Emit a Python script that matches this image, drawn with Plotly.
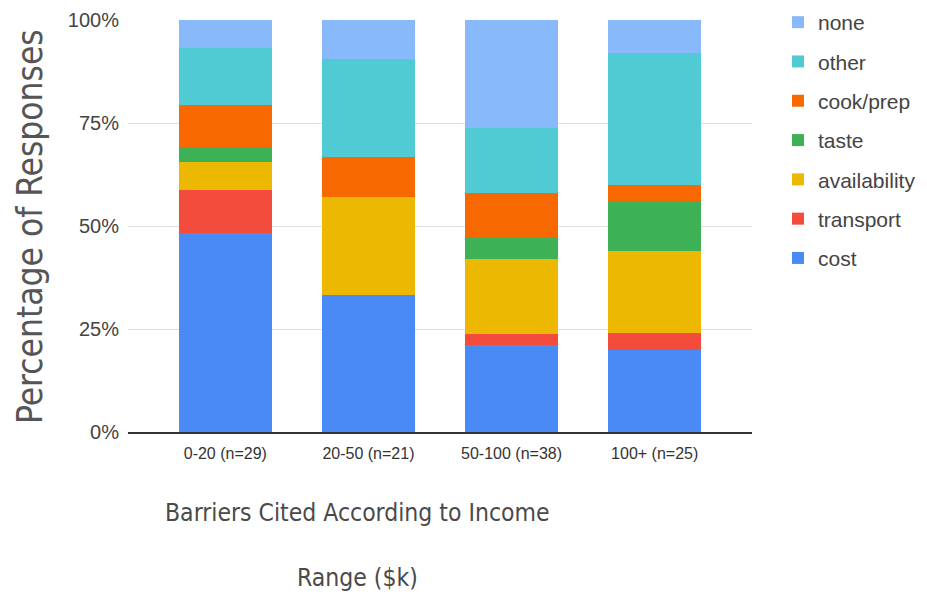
import plotly.graph_objects as go

categories = ["0-20 (n=29)", "20-50 (n=21)", "50-100 (n=38)", "100+ (n=25)"]
series_names = ["cost", "transport", "availability", "taste", "cook/prep", "other", "none"]
# response counts per income range (normalised to percent by the chart)
cost = [14, 7, 8, 5]
transport = [3, 0, 1, 1]
availability = [2, 5, 7, 5]
taste = [1, 0, 2, 3]
cook_prep = [3, 2, 4, 1]
other = [4, 5, 6, 8]
none = [2, 2, 10, 2]
series_values = [cost, transport, availability, taste, cook_prep, other, none]
colors = ["#4a8af4", "#f34b3c", "#ecb802", "#3cb155", "#f76800", "#50cbd3", "#88b9fa"]
y_ticks = [0, 25, 50, 75, 100]
y_tick_labels = ["0%", "25%", "50%", "75%", "100%"]

fig = go.Figure()
n = len(series_names)
for i, (name, vals, col) in enumerate(zip(series_names, series_values, colors)):
    fig.add_trace(go.Bar(
        x=categories, y=vals, name=name, legendgroup=name,
        legendrank=(n - i) * 10,
        marker=dict(color=col, line=dict(width=0)),
    ))

W, H = 927, 594
L, R, T, B = 128, 175, 8, 162
plot_top = 20
pw, ph = W - L - R, H - T - B
y_dom_top = (H - B - plot_top) / ph

title_font = "Liberation Sans Narrow, DejaVu Sans Condensed, Liberation Sans, sans-serif"

def py(pix):
    return (H - B - pix) / ph

fig.update_layout(
    width=W, height=H,
    margin=dict(l=L, r=R, t=T, b=B, autoexpand=False),
    barmode="stack", barnorm="percent", bargap=0.35,
    plot_bgcolor="white", paper_bgcolor="white",
    font=dict(family="Arial, Liberation Sans, sans-serif", color="#444444"),
    legend=dict(
        x=(778 - L) / pw, y=py(2), xanchor="left", yanchor="top",
        traceorder="grouped", tracegroupgap=9,
        font=dict(size=21, color="#444444"),
        bgcolor="rgba(0,0,0,0)",
    ),
    xaxis=dict(
        type="category", range=[-0.68, 3.68], automargin=False,
        showline=True, linecolor="#333333", linewidth=1.5,
        showgrid=False, tickfont=dict(size=16, color="#333333"),
        ticklabelstandoff=6,
    ),
    yaxis=dict(
        domain=[0, y_dom_top], automargin=False,
        range=[0, 100], tickmode="array", tickvals=y_ticks, ticktext=y_tick_labels,
        showgrid=True, gridcolor="#dddddd", gridwidth=1, zeroline=False,
        tickfont=dict(size=20, color="#444444"), ticklabelstandoff=8,
    ),
    annotations=[
        dict(text="Percentage of Responses", textangle=-90,
             xref="paper", yref="paper", x=(30 - L) / pw, y=py(227),
             xanchor="center", yanchor="middle", showarrow=False,
             font=dict(size=35, color="#555555", family=title_font)),
        dict(text="Barriers Cited According to Income",
             xref="paper", yref="paper", x=(357 - L) / pw, y=py(512),
             xanchor="center", yanchor="middle", showarrow=False,
             font=dict(size=24.5, color="#4a4a4a", family=title_font)),
        dict(text="Range ($k)",
             xref="paper", yref="paper", x=(357 - L) / pw, y=py(577),
             xanchor="center", yanchor="middle", showarrow=False,
             font=dict(size=24.5, color="#4a4a4a", family=title_font)),
    ],
)

fig.write_html("out.html")
